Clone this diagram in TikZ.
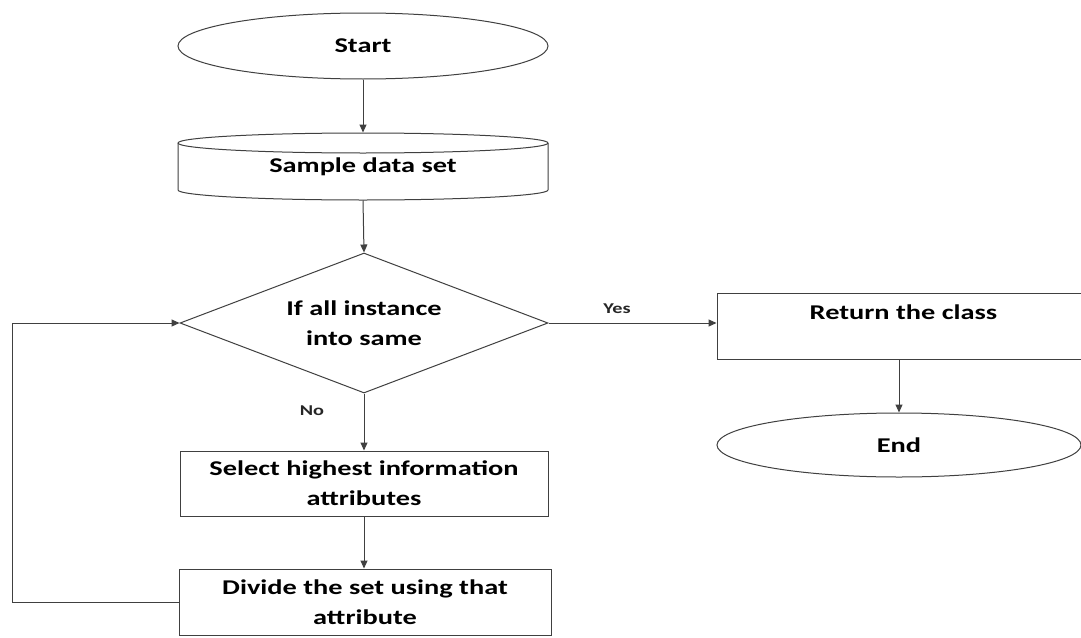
\documentclass[tikz,border=0pt]{standalone}
\usepackage{fontspec}
\setmainfont{Carlito}[FakeStretch=1.35]
\usetikzlibrary{shapes.geometric,arrows.meta}
\begin{document}
\begin{tikzpicture}[x=1pt,y=-1pt,
  line width=1pt,
  txt/.style={font=\bfseries\fontsize{21}{30}\selectfont, align=center, text=black},
  lbl/.style={font=\bfseries\fontsize{15}{18}\selectfont, text=black!85},
  box/.style={txt, draw=black!75, rectangle, inner sep=0pt},
  term/.style={txt, draw=black!75, ellipse, inner sep=0pt},
  decision/.style={txt, draw=black!75, diamond, inner sep=0pt, aspect=2.63},
  arr/.style={draw=black!75, -{Triangle[length=8pt,width=7pt]}}]
\useasboundingbox (0,0) rectangle (1081,637);
\clip (0,0) rectangle (1081,637);
\fill[white] (0,0) rectangle (1081,637);

% Start
\node[term, minimum width=370pt, minimum height=66pt] (start) at (363,46) {Start};

% Sample data set (cylinder drawn by hand around a named node)
\node[txt, minimum width=370pt, minimum height=67pt, inner sep=0pt] (data) at (363,166.5) {Sample data set};
\draw[draw=black!75] (363,143) ellipse[x radius=185pt, y radius=10pt];
\draw[draw=black!75] (178,143) -- (178,190) arc[start angle=180, end angle=360, x radius=185pt, y radius=10pt] -- (548,143);

% Decision
\node[decision, minimum width=368pt, minimum height=140pt] (dec) at (364,323) {If all instance\\into same};

% Return the class
\node[box, minimum width=373pt, minimum height=66pt] (ret) at (903.5,326) {};
\node[txt] (rettext) at ([yshift=-20pt]ret.north) {Return the class};

% End
\node[term, minimum width=364pt, minimum height=64pt] (endn) at (899,445) {End};

% Select / Divide
\node[box, minimum width=368pt, minimum height=65pt] (sel) at (364,483.5) {Select highest information\\attributes};
\node[box, minimum width=372pt, minimum height=66pt] (div) at (365,602) {Divide the set using that\\attribute};

\coordinate (lp) at (12,602);

% Connectors
\draw[arr] (start.south) -- (data.north);
\draw[arr] (data.south) -- (dec.north);
\draw[arr] (dec.east) -- (dec.east -| ret.west);
\draw[arr] (dec.south) -- (dec.south |- sel.north);
\draw[arr] (sel.south) -- (sel.south |- div.north);
\draw[arr] (div.west) -- (lp) |- (dec.west);
\draw[arr] (ret.south -| endn.north) -- (endn.north);

% Labels
\node[lbl] (yes) at (617,309) {Yes};
\node[lbl] (no) at (312,411) {No};
\end{tikzpicture}
\end{document}
